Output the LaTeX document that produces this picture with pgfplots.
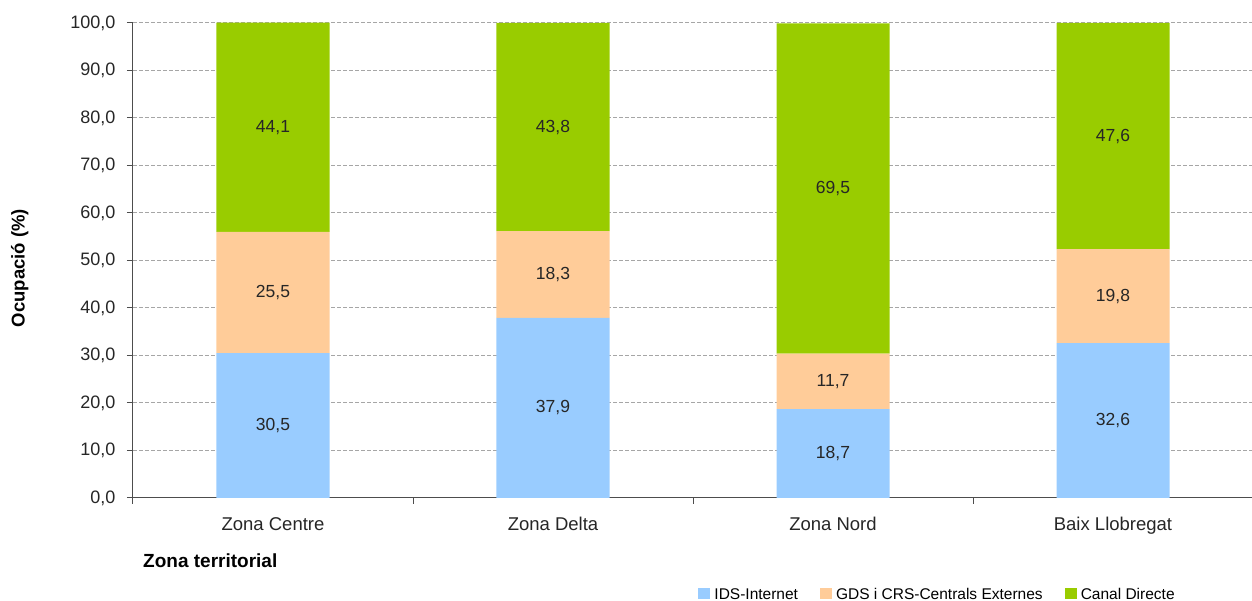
\documentclass[border=0pt]{standalone}
\usepackage{pgfplots}
\pgfplotsset{compat=1.18}
\usepackage{fontspec}
\setmainfont{Liberation Sans}
\definecolor{cblue}{HTML}{99CCFF}
\definecolor{cpeach}{HTML}{FFCC99}
\definecolor{cgreen}{HTML}{99CC00}
\definecolor{axgray}{HTML}{4D4D4D}
\definecolor{gridgray}{HTML}{A6A6A6}
\begin{document}
\begin{tikzpicture}
\useasboundingbox (-133pt,-103pt) rectangle (1119pt,498pt);
\begin{axis}[
  at={(0pt,0pt)}, anchor=south west,
  scale only axis, width=1120pt, height=475pt,
  ybar stacked, bar width=0.4036,
  xmin=-0.5, xmax=3.5, ymin=0, ymax=100,
  axis x line*=bottom, axis y line*=left,
  axis line style={-, draw=axgray, line width=1pt},
  xtick={-0.5,0.5,1.5,2.5,3.5}, xticklabels={},
  extra x ticks={0,1,2,3},
  extra x tick labels={Zona Centre, Zona Delta, Zona Nord, Baix Llobregat},
  extra x tick style={major tick length=0pt, tick style={draw=none}, grid=none},
  ytick={0,10,...,100},
  tick align=outside, major tick length=6pt,
  tick style={draw=axgray, line width=1pt},
  ymajorgrids, major grid style={draw=gridgray, line width=1pt, dash pattern=on 4pt off 2pt},
  yticklabel style={font=\fontsize{18}{21}\selectfont, text=black!85, xshift=-8pt},
  xticklabel style={font=\fontsize{18.5}{21}\selectfont, text=black!85, yshift=-16pt},
  /pgf/number format/fixed, /pgf/number format/fixed zerofill,
  /pgf/number format/precision=1, /pgf/number format/use comma,
  /pgf/number format/assume math mode=true,
  ylabel={Ocupació (\%)},
  ylabel style={at={(axis description cs:-0.101,0.484)}, anchor=center, font=\bfseries\fontsize{18.5}{21}\selectfont},
  xlabel={Zona territorial},
  xlabel style={at={(axis description cs:0.069,-0.131)}, anchor=center, font=\bfseries\fontsize{19}{22}\selectfont},
  legend columns=3,
  legend style={draw=none, fill=none, inner sep=0pt, at={(axis description cs:0.5047,-0.203)}, anchor=west,
    font=\fontsize{15.5}{18}\selectfont, text=black,
    /tikz/every even column/.append style={column sep=20pt}},
  legend image code/.code={\fill[#1] (0pt,-5pt) rectangle (12pt,6pt); \path (14pt,0pt);},
]
\addplot[fill=cblue, draw=none] coordinates {(0,30.5) (1,37.9) (2,18.7) (3,32.6)};
\addplot[fill=cpeach, draw=none] coordinates {(0,25.5) (1,18.3) (2,11.7) (3,19.8)};
\addplot[fill=cgreen, draw=none] coordinates {(0,44.1) (1,43.8) (2,69.5) (3,47.6)};
\legend{IDS-Internet, GDS i CRS-Centrals Externes, Canal Directe}
\end{axis}
\begin{axis}[
  at={(0pt,0pt)}, anchor=south west,
  scale only axis, width=1120pt, height=475pt,
  xmin=-0.5, xmax=3.5, ymin=0, ymax=100,
  hide axis, clip=false,
  /pgf/number format/fixed, /pgf/number format/fixed zerofill,
  /pgf/number format/precision=1, /pgf/number format/use comma,
  /pgf/number format/assume math mode=true,
  every node near coord/.style={anchor=center, font=\fontsize{17.5}{20}\selectfont, text=black!85},
]
\addplot[draw=none, mark=none, nodes near coords, point meta=explicit] coordinates {
  (0,15.25) [30.5] (1,18.95) [37.9] (2,9.35) [18.7] (3,16.3) [32.6]
  (0,43.25) [25.5] (1,47.05) [18.3] (2,24.55) [11.7] (3,42.5) [19.8]
  (0,78.05) [44.1] (1,78.1) [43.8] (2,65.15) [69.5] (3,76.2) [47.6]
};
\end{axis}
\end{tikzpicture}
\end{document}
